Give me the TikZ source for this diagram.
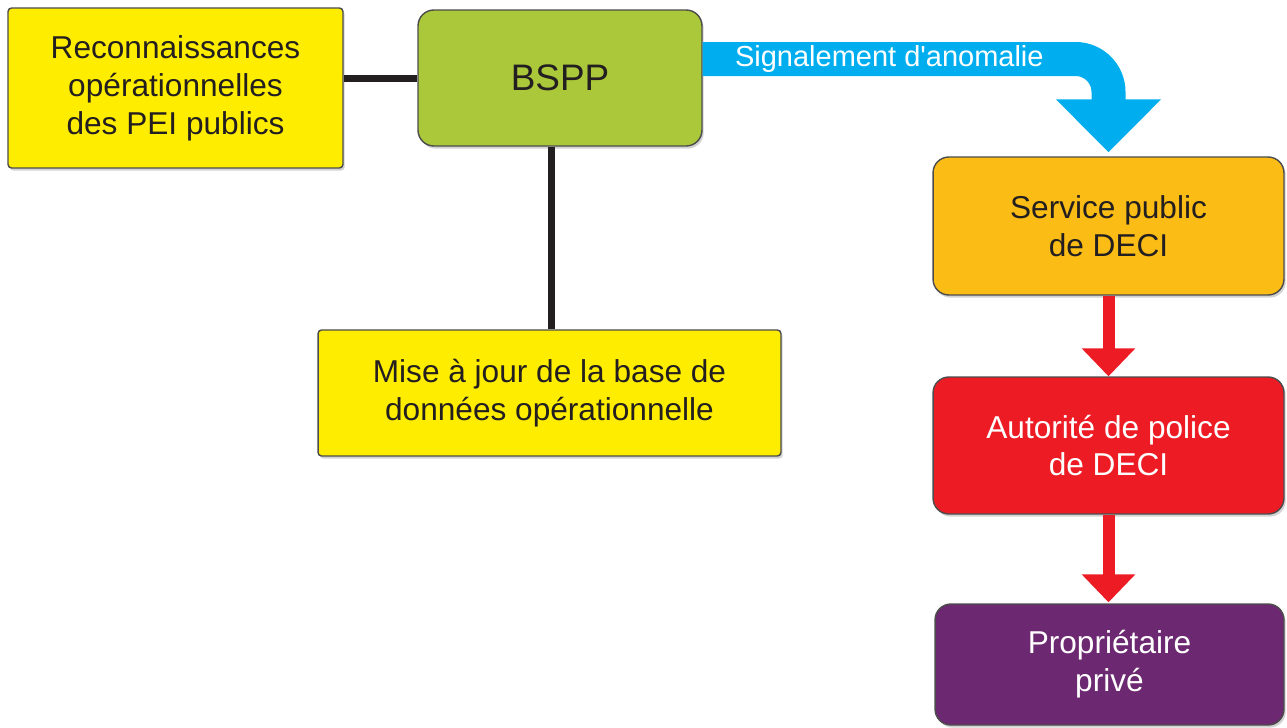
\documentclass[tikz,border=0pt]{standalone}
\usepackage{fontspec}
\setmainfont{Liberation Sans}
\usetikzlibrary{arrows.meta,shadows}

\definecolor{boxYellow}{RGB}{255,237,0}
\definecolor{boxGreen}{RGB}{170,200,58}
\definecolor{boxOrange}{RGB}{251,188,21}
\definecolor{boxRed}{RGB}{237,28,36}
\definecolor{boxPurple}{RGB}{108,40,112}
\definecolor{signalBlue}{RGB}{0,174,239}
\definecolor{linkBlack}{RGB}{35,31,32}
\colorlet{boxBorder}{black!70}
\tikzstyle{boxBase}=[draw=boxBorder,line width=0.8pt,align=center,inner sep=0pt,
  font=\fontsize{18}{21.6}\selectfont,text=linkBlack,
  drop shadow={shadow xshift=1pt,shadow yshift=-1.5pt,opacity=.35}]
\tikzstyle{taskBox}=[boxBase,fill=boxYellow,rounded corners=2pt]
\tikzstyle{mainBox}=[boxBase,fill=boxGreen,rounded corners=9pt,font=\fontsize{21}{25}\selectfont]
\tikzstyle{stepOne}=[boxBase,fill=boxOrange,rounded corners=9pt]
\tikzstyle{stepTwo}=[boxBase,fill=boxRed,rounded corners=9pt,text=white]
\tikzstyle{stepThree}=[boxBase,fill=boxPurple,rounded corners=9pt,text=white]
\tikzstyle{link}=[linkBlack,line width=0.14cm]
\tikzstyle{signalArrow}=[signalBlue,line width=0.68cm,rounded corners=0.66cm,
  -{Triangle[width=2.04cm,length=1.06cm]}]
\tikzstyle{signalLabel}=[text=white,font=\fontsize{16.5}{19}\selectfont,inner sep=0pt]
\tikzstyle{downArrow}=[boxRed,line width=0.24cm,-{Triangle[width=1.04cm,length=0.56cm]}]

\begin{document}
\begin{tikzpicture}[x=0.02cm,y=-0.02cm]
\useasboundingbox (0,0) rectangle (1287,727);
        % left column
        \node[taskBox,minimum width=6.7cm,minimum height=3.2cm]
                (reco) at (175.5,88)
                {Reconnaissances\\opérationnelles\\des PEI publics};
        \node[mainBox,minimum width=5.68cm,minimum height=2.72cm]
                (bspp) at (560,78) {BSPP};
        \node[taskBox,minimum width=9.26cm,minimum height=2.52cm]
                (maj) at (549.5,393)
                {Mise à jour de la base de\\données opérationnelle};
        % right column
        \node[stepOne,minimum width=7.02cm,minimum height=2.76cm]
                (service) at (1108.5,226) {Service public\\de DECI};
        \node[stepTwo,minimum width=7.02cm,minimum height=2.74cm]
                (police) at (1108.5,445.5) {Autorité de police\\de DECI};
        \node[stepThree,minimum width=6.98cm,minimum height=2.42cm]
                (owner) at (1109.5,664.5) {Propriétaire\\privé};
        % links
        \draw[link] (reco.east |- bspp.west) -- (bspp.west);
        \draw[link] (maj.north -| 551,0) -- (bspp.south -| 551,0);
        \draw[signalArrow] ([yshift=0.38cm]bspp.east)
                -| ([yshift=0.08cm]service.north)
                node[signalLabel,pos=0.23] (signal) {Signalement d\textquotesingle anomalie};
        \draw[downArrow] (service.south) -- (police.north);
        \draw[downArrow] (police.south) -- ([yshift=0.02cm]police.south |- owner.north);
\end{tikzpicture}
\end{document}
